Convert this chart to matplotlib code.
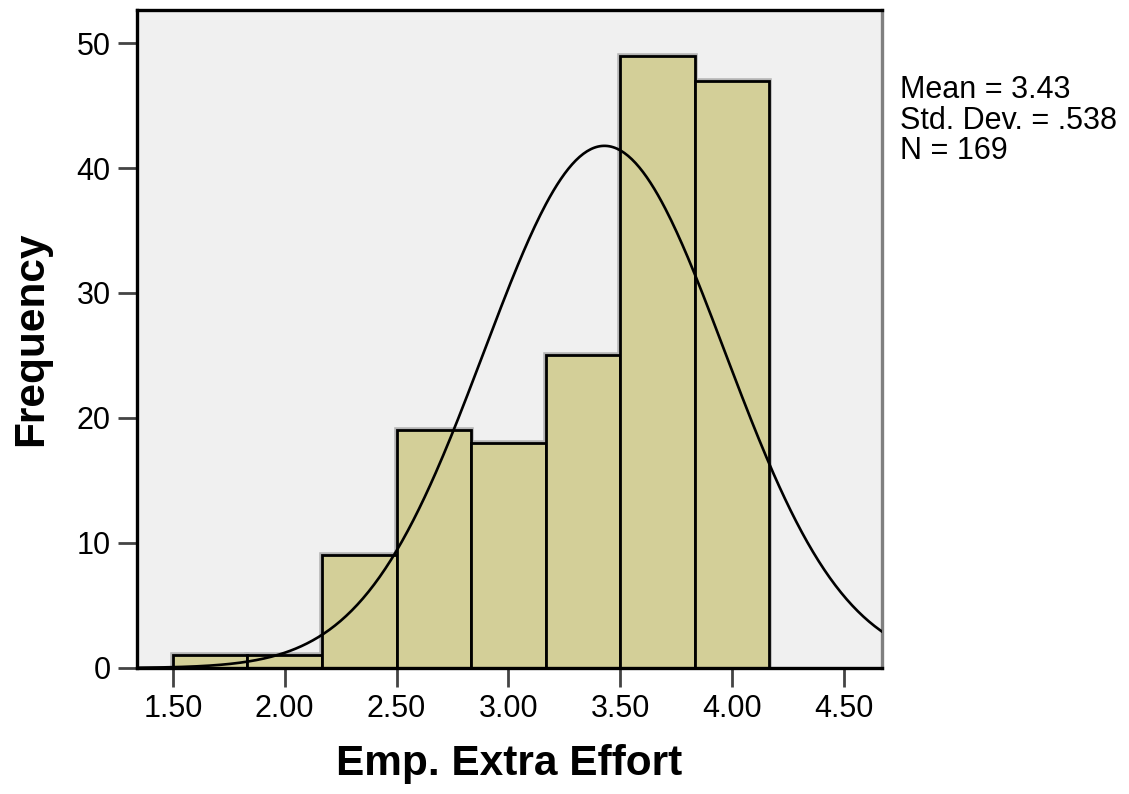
import numpy as np
import matplotlib
matplotlib.use("Agg")
import matplotlib.pyplot as plt

plt.rcParams["font.family"] = ["Liberation Sans", "DejaVu Sans"]

# histogram data (bin edges start at 1.50, width 1/3)
bin_left = [1.5, 1.8333, 2.1667, 2.5, 2.8333, 3.1667, 3.5, 3.8333]
counts = [1, 1, 9, 19, 18, 25, 49, 47]
bin_width = 1 / 3

# summary stats shown in the legend box
mean = 3.43
std_dev = 0.538
n_obs = 169

x_ticks = [1.5, 2.0, 2.5, 3.0, 3.5, 4.0, 4.5]
x_tick_labels = ["1.50", "2.00", "2.50", "3.00", "3.50", "4.00", "4.50"]
y_ticks = [0, 10, 20, 30, 40, 50]

fig = plt.figure(figsize=(11.29, 7.94), dpi=100)
ax = fig.add_axes([0.1213, 0.1587, 0.6600, 0.8287])
ax.set_facecolor("#f0f0f0")

# soft shadow behind the bars, then the bars themselves
ax.bar(bin_left, counts, width=bin_width, align="edge", color="none",
       edgecolor="#b4b4b4", linewidth=4, zorder=1)
ax.bar(bin_left, counts, width=bin_width, align="edge", color="#d3cf98",
       edgecolor="black", linewidth=2, zorder=2)

# fitted normal curve scaled to counts
x_min, x_max = 1.339, 4.672
xs = np.linspace(x_min, x_max, 400)
curve = n_obs * bin_width / (std_dev * np.sqrt(2 * np.pi)) * np.exp(-0.5 * ((xs - mean) / std_dev) ** 2)
ax.plot(xs, curve, color="black", linewidth=1.9, zorder=3)

ax.set_xlim(x_min, x_max)
ax.set_ylim(0, 52.64)
ax.set_xticks(x_ticks)
ax.set_xticklabels(x_tick_labels)
ax.set_yticks(y_ticks)
ax.tick_params(axis="both", labelsize=22, length=14, width=2, color="#444444", pad=5)

for side in ["left", "top", "bottom"]:
    ax.spines[side].set_color("black")
    ax.spines[side].set_linewidth(2.4)
ax.spines["right"].set_color("#808080")
ax.spines["right"].set_linewidth(2.4)

ax.set_xlabel("Emp. Extra Effort", fontsize=30.5, fontweight="bold", labelpad=14)
ax.set_ylabel("Frequency", fontsize=30.5, fontweight="bold", labelpad=18)

fig.text(0.797, 0.906, "Mean = 3.43\nStd. Dev. = .538\nN = 169", fontsize=22,
         va="top", ha="left", linespacing=1.04)

fig.savefig("out.png", dpi=100)
